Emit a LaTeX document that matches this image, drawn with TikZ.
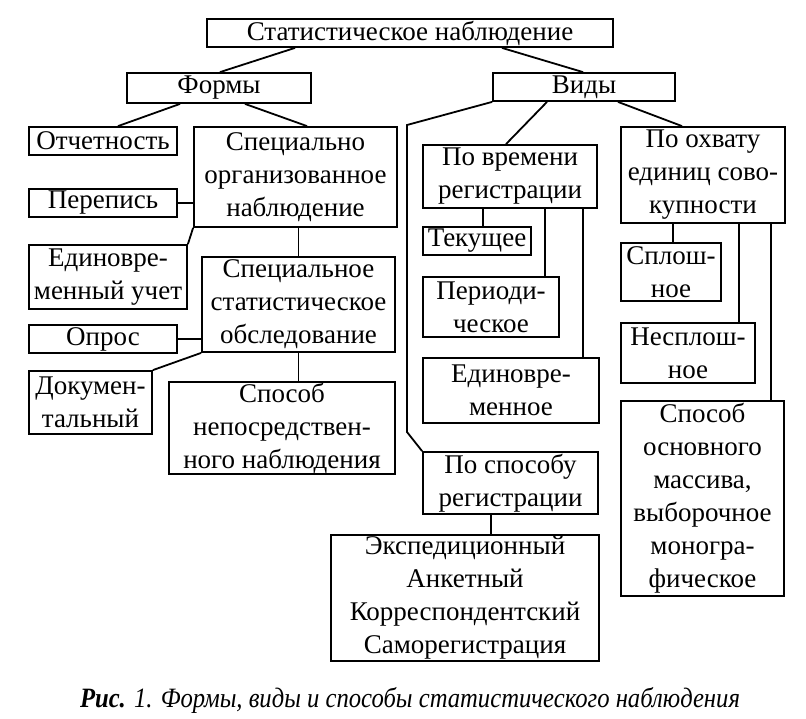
\documentclass[tikz,border=0pt]{standalone}
\usepackage{fontspec}
\setmainfont{Liberation Serif}
\usepackage{graphicx}
\begin{document}
\begin{tikzpicture}[x=1pt,y=-1pt,
  box/.style={draw, line width=1.8pt, inner sep=0pt, align=center, font=\fontsize{27}{33}\selectfont},
  conn/.style={line width=1.8pt}]
\useasboundingbox[fill=white] (0,0) rectangle (806,718);
% nodes
\node[box, minimum width=406pt, minimum height=28pt] (title) at (410,33) {Статистическое наблюдение};
\node[box, minimum width=184pt, minimum height=30pt] (formy) at (219,88) {Формы};
\node[box, minimum width=182pt, minimum height=28pt] (vidy) at (584,87) {Виды};
\node[box, minimum width=148pt, minimum height=28pt] (otch) at (103,141) {Отчетность};
\node[box, minimum width=203pt, minimum height=100pt] (son) at (295.5,177) {Специально\\организованное\\наблюдение};
\node[box, minimum width=148pt, minimum height=28pt] (perep) at (103,203) {Перепись};
\node[box, minimum width=158pt, minimum height=64pt] (edu) at (108,277) {Единовре-\\менный учет};
\node[box, minimum width=193pt, minimum height=95pt] (sso) at (298.5,304.5) {Специальное\\статистическое\\обследование};
\node[box, minimum width=148pt, minimum height=28pt] (opros) at (103,339) {Опрос};
\node[box, minimum width=123pt, minimum height=63pt] (dok) at (90.5,402.5) {Докумен-\\тальный};
\node[box, minimum width=226pt, minimum height=92pt] (snn) at (282,428) {Способ\\непосредствен-\\ного наблюдения};
\node[box, minimum width=174pt, minimum height=63pt] (pvr) at (510,176.5) {По времени\\регистрации};
\node[box, minimum width=108pt, minimum height=28pt] (tek) at (477,241) {Текущее};
\node[box, minimum width=136pt, minimum height=60pt] (per) at (491,307) {Периоди-\\ческое};
\node[box, minimum width=176pt, minimum height=65pt] (edn) at (511,390.5) {Единовре-\\менное};
\node[box, minimum width=175pt, minimum height=62pt] (psr) at (510.5,483) {По способу\\регистрации};
\node[box, minimum width=268pt, minimum height=126pt] (eksp) at (465,598) {Экспедиционный\\Анкетный\\Корреспондентский\\Саморегистрация};
\node[box, minimum width=164pt, minimum height=96pt] (poh) at (703,175) {По охвату\\единиц сово-\\купности};
\node[box, minimum width=100pt, minimum height=58pt] (spl) at (671,272) {Сплош-\\ное};
\node[box, minimum width=134pt, minimum height=60pt] (nespl) at (688,353) {Несплош-\\ное};
\node[box, minimum width=163pt, minimum height=195pt] (som) at (702.5,498.5) {Способ\\основного\\массива,\\выборочное\\моногра-\\фическое};
\node[anchor=base, inner sep=0pt] (cap) at (410,707) {\resizebox{660pt}{\height}{\fontsize{28}{32}\selectfont\textbf{\textit{Рис.}}\textit{ 1. Формы, виды и способы статистического наблюдения}}};
% connectors
\draw[conn] ([xshift=-115pt]title.south) -- ([xshift=1pt]formy.north);
\draw[conn] ([xshift=92pt]title.south) -- ([xshift=-1pt]vidy.north);
\draw[conn] ([xshift=-39pt]formy.south) -- ([xshift=15pt]otch.north);
\draw[conn] ([xshift=26pt]formy.south) -- ([xshift=11.5pt]son.north);
\draw[conn] (perep.east) -- (perep.east -| son.west);
\draw[conn] (son.south west) -- (edu.north east);
\draw[conn] (son.south -| sso.north) -- (sso.north);
\draw[conn] (opros.east) -- (opros.east -| sso.west);
\draw[conn] (sso.south west) -- (dok.north east);
\draw[conn] (sso.south) -- (sso.south |- snn.north);
\coordinate (v1) at (407,125);
\coordinate (v2) at (407,432);
\draw[conn] (vidy.south west) -- (v1) -- (v2) -- (psr.north west);
\draw[conn] ([xshift=-37pt]vidy.south) -- ([xshift=-4pt]pvr.north);
\draw[conn] ([xshift=-27pt]pvr.south) -- ([xshift=6pt]tek.north);
\draw[conn] ([xshift=35pt]pvr.south) -- ([xshift=54pt]per.north);
\draw[conn] ([xshift=73pt]pvr.south) -- ([xshift=72pt]edn.north);
\draw[conn] ([xshift=-19.5pt]psr.south) -- ([xshift=26pt]eksp.north);
\draw[conn] ([xshift=34pt]vidy.south) -- ([xshift=-21pt]poh.north);
\draw[conn] ([xshift=-30pt]poh.south) -- ([xshift=2pt]spl.north);
\draw[conn] ([xshift=36pt]poh.south) -- ([xshift=51pt]nespl.north);
\draw[conn] ([xshift=68pt]poh.south) -- ([xshift=68.5pt]som.north);
\end{tikzpicture}
\end{document}
